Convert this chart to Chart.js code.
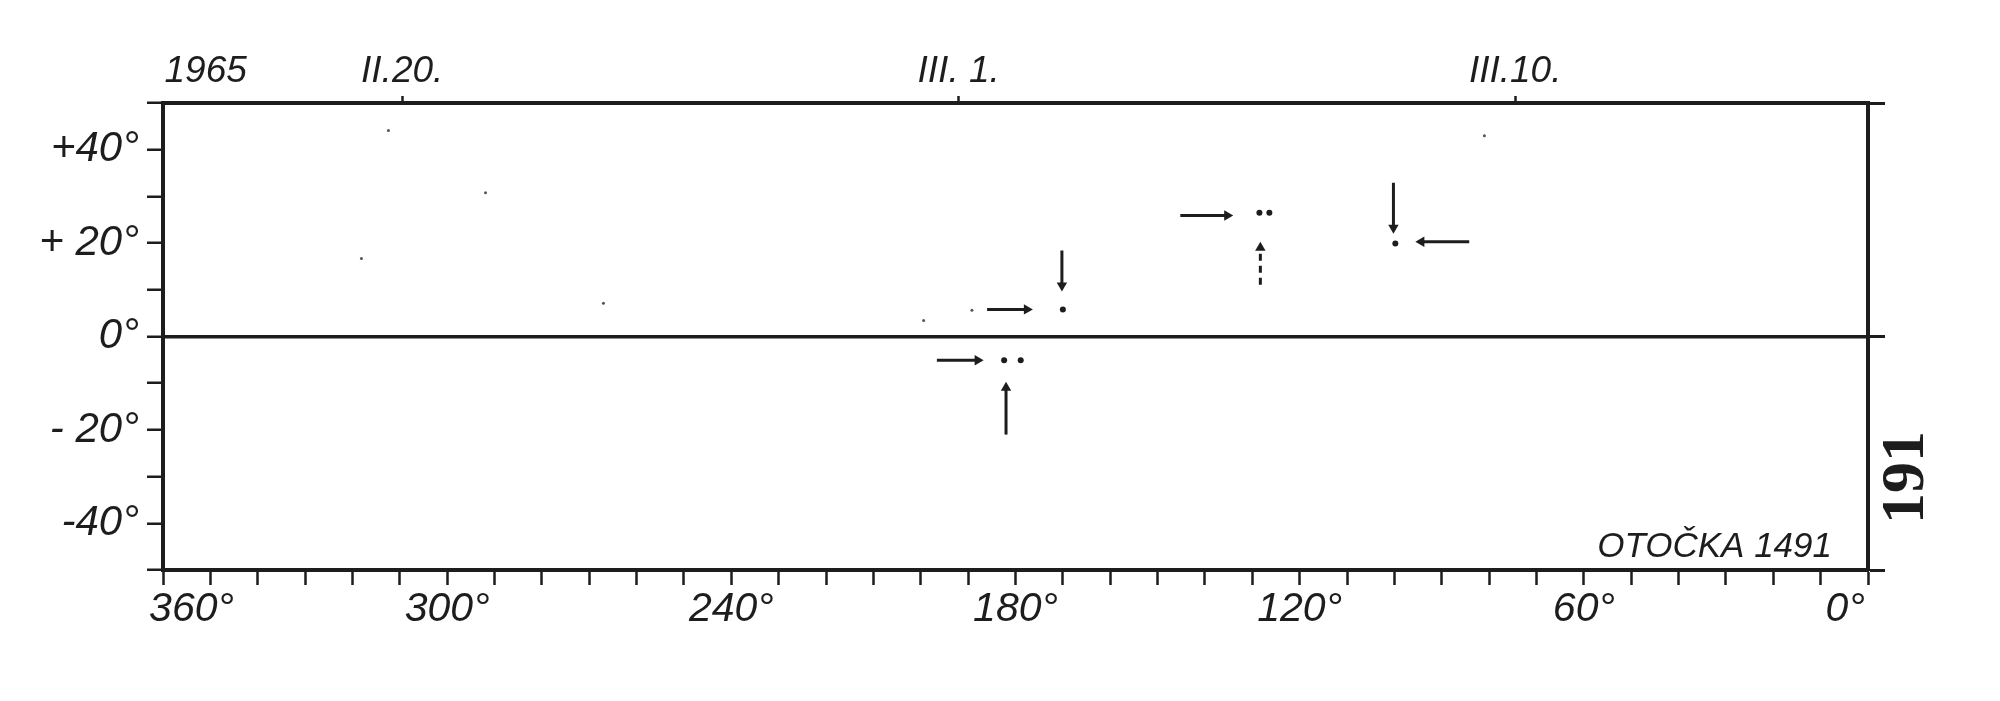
<!DOCTYPE html>
<html>
<head>
<meta charset="utf-8">
<script src="https://cdn.jsdelivr.net/npm/chart.js@4.4.1/dist/chart.umd.min.js"></script>
<style>
  html, body { margin: 0; padding: 0; background: #fff; }
  #wrap { width: 2000px; height: 701px; }
</style>
</head>
<body>
<div id="wrap"><canvas id="chart" width="2000" height="701"></canvas></div>
<script>
// longitude runs 360 -> 0 from left to right, declination -50..+50
const lonLabelStep = 60;
const decLabelValues = [40, 20, 0, -20, -40];
const decLabelTexts = ['+40°', '+ 20°', '0°', '- 20°', '-40°'];
const dateTickLon = [351, 309.5, 192, 74.5];
const dateTickLabels = ['1965', 'II.20.', 'III. 1.', 'III.10.'];

// observed spots
const spotLon = [182.4, 178.9, 170.0, 128.5, 126.4, 99.8];
const spotDec = [-5.1, -5.1, 5.8, 26.5, 26.5, 19.9];

// pointer arrows, tail -> head
const arrowTailLon = [196.6, 182.0, 186.0, 170.2, 145.2, 128.3, 100.2, 84.2];
const arrowTailDec = [-5.1, -21.0, 5.8, 18.4, 25.9, 11.1, 32.9, 20.3];
const arrowHeadLon = [188.0, 182.0, 177.6, 170.2, 135.3, 128.3, 100.2, 94.3];
const arrowHeadDec = [-5.1, -11.0, 5.8, 10.9, 25.9, 19.0, 23.3, 20.3];

// faint specks on the plate
const speckLon = [312.4, 291.9, 318.1, 267.0, 199.4, 189.2, 81.0];
const speckDec = [44.1, 30.8, 16.7, 7.1, 3.4, 5.6, 43.0];

const plateTitle = 'OTOČKA 1491';
const pageNumber = '191';

const INK = '#1d1d1d';
const HAND = '"Liberation Sans Narrow", "Liberation Sans", sans-serif';

const datasets = [];
datasets.push({
  label: 'spots',
  data: spotLon.map((x, i) => ({ x, y: spotDec[i] })),
  showLine: false,
  pointRadius: 3,
  pointBackgroundColor: INK,
  pointBorderWidth: 0,
});
datasets.push({
  label: 'specks',
  data: speckLon.map((x, i) => ({ x, y: speckDec[i] })),
  showLine: false,
  pointRadius: 1.5,
  pointBackgroundColor: '#555',
  pointBorderWidth: 0,
});
for (let i = 0; i < arrowTailLon.length; i++) {
  const tail = { x: arrowTailLon[i], y: arrowTailDec[i] };
  const head = { x: arrowHeadLon[i], y: arrowHeadDec[i] };
  datasets.push({
    label: `arrow ${i}`,
    data: [tail, head],
    borderColor: INK,
    borderWidth: 3,
    borderDash: i === 5 ? [7, 5] : [],
    pointBackgroundColor: INK,
    pointBorderWidth: 0,
    pointStyle: 'triangle',
    pointRadius: (ctx) => (ctx.dataIndex === 1 ? 6 : 0),
    pointRotation: (ctx) => {
      const sx = ctx.chart.scales.x, sy = ctx.chart.scales.y;
      const dx = sx.getPixelForValue(head.x) - sx.getPixelForValue(tail.x);
      const dy = sy.getPixelForValue(head.y) - sy.getPixelForValue(tail.y);
      return Math.atan2(dx, -dy) * 180 / Math.PI;
    },
  });
}

const notes = {
  id: 'notes',
  afterDraw(chart) {
    const { ctx, chartArea } = chart;
    ctx.save();
    ctx.fillStyle = INK;
    ctx.font = 'italic 35px ' + HAND;
    ctx.textAlign = 'right';
    ctx.textBaseline = 'alphabetic';
    ctx.fillText(plateTitle, chartArea.right - 36, chartArea.bottom - 13);
    ctx.translate(chartArea.right + 39, (chartArea.top + chartArea.bottom) / 2 + 141);
    ctx.rotate(-Math.PI / 2);
    ctx.font = 'bold 62px "Liberation Serif", serif';
    ctx.textAlign = 'center';
    ctx.textBaseline = 'middle';
    ctx.fillText(pageNumber, 0, 0);
    ctx.restore();
  },
};

// end labels sit a little inside the frame, as lettered on the plate
function lonLabel(v) {
  if (v % lonLabelStep !== 0) return '';
  if (v === 360) return '     ' + v + '°';
  if (v === 0) return v + '°    ';
  return v + '°';
}

new Chart(document.getElementById('chart').getContext('2d'), {
  type: 'line',
  data: { datasets },
  plugins: [notes],
  options: {
    responsive: false,
    animation: false,
    events: [],
    layout: { padding: 0 },
    plugins: { legend: { display: false }, tooltip: { enabled: false } },
    scales: {
      x: {
        type: 'linear',
        position: 'bottom',
        min: 0,
        max: 360,
        reverse: true,
        afterFit: (s) => { s.height = 131; },
        border: { color: INK, width: 4 },
        grid: { drawOnChartArea: false, tickLength: 15, tickColor: INK, tickWidth: 2.5 },
        ticks: {
          stepSize: 10,
          autoSkip: false,
          maxRotation: 0,
          padding: 0,
          color: INK,
          font: { family: HAND, size: 41, style: 'italic' },
          callback: lonLabel,
        },
      },
      xTop: {
        type: 'linear',
        position: 'top',
        min: 0,
        max: 360,
        reverse: true,
        afterFit: (s) => { s.height = 103; },
        afterBuildTicks: (s) => { s.ticks = dateTickLon.map((value) => ({ value })); },
        border: { color: INK, width: 4 },
        grid: {
          drawOnChartArea: false,
          tickLength: 7,
          tickWidth: 2.5,
          tickColor: (ctx) => (dateTickLabels[ctx.index] === '1965' ? 'rgba(0,0,0,0)' : INK),
        },
        ticks: {
          autoSkip: false,
          maxRotation: 0,
          padding: 2,
          color: INK,
          font: { family: HAND, size: 37, style: 'italic' },
          callback: (v, i) => dateTickLabels[i],
        },
      },
      y: {
        type: 'linear',
        position: 'left',
        min: -50,
        max: 50,
        afterFit: (s) => { s.width = 163; },
        border: { color: INK, width: 4 },
        grid: {
          color: (ctx) => (ctx.tick && ctx.tick.value === 0 ? INK : 'rgba(0,0,0,0)'),
          lineWidth: 3.5,
          tickLength: 16,
          tickColor: INK,
          tickWidth: 2.5,
        },
        ticks: {
          stepSize: 10,
          autoSkip: false,
          padding: 8,
          color: INK,
          font: { family: HAND, size: 42, style: 'italic' },
          callback: (v) => {
            const i = decLabelValues.indexOf(v);
            return i >= 0 ? decLabelTexts[i] : '';
          },
        },
      },
      yR: {
        type: 'linear',
        position: 'right',
        min: -50,
        max: 50,
        afterFit: (s) => { s.width = 132; },
        afterBuildTicks: (s) => { s.ticks = [-50, 0, 50].map((value) => ({ value })); },
        border: { color: INK, width: 4 },
        grid: { drawOnChartArea: false, tickLength: 17, tickColor: INK, tickWidth: 3 },
        ticks: { display: false },
      },
    },
  },
});
</script>
</body>
</html>
